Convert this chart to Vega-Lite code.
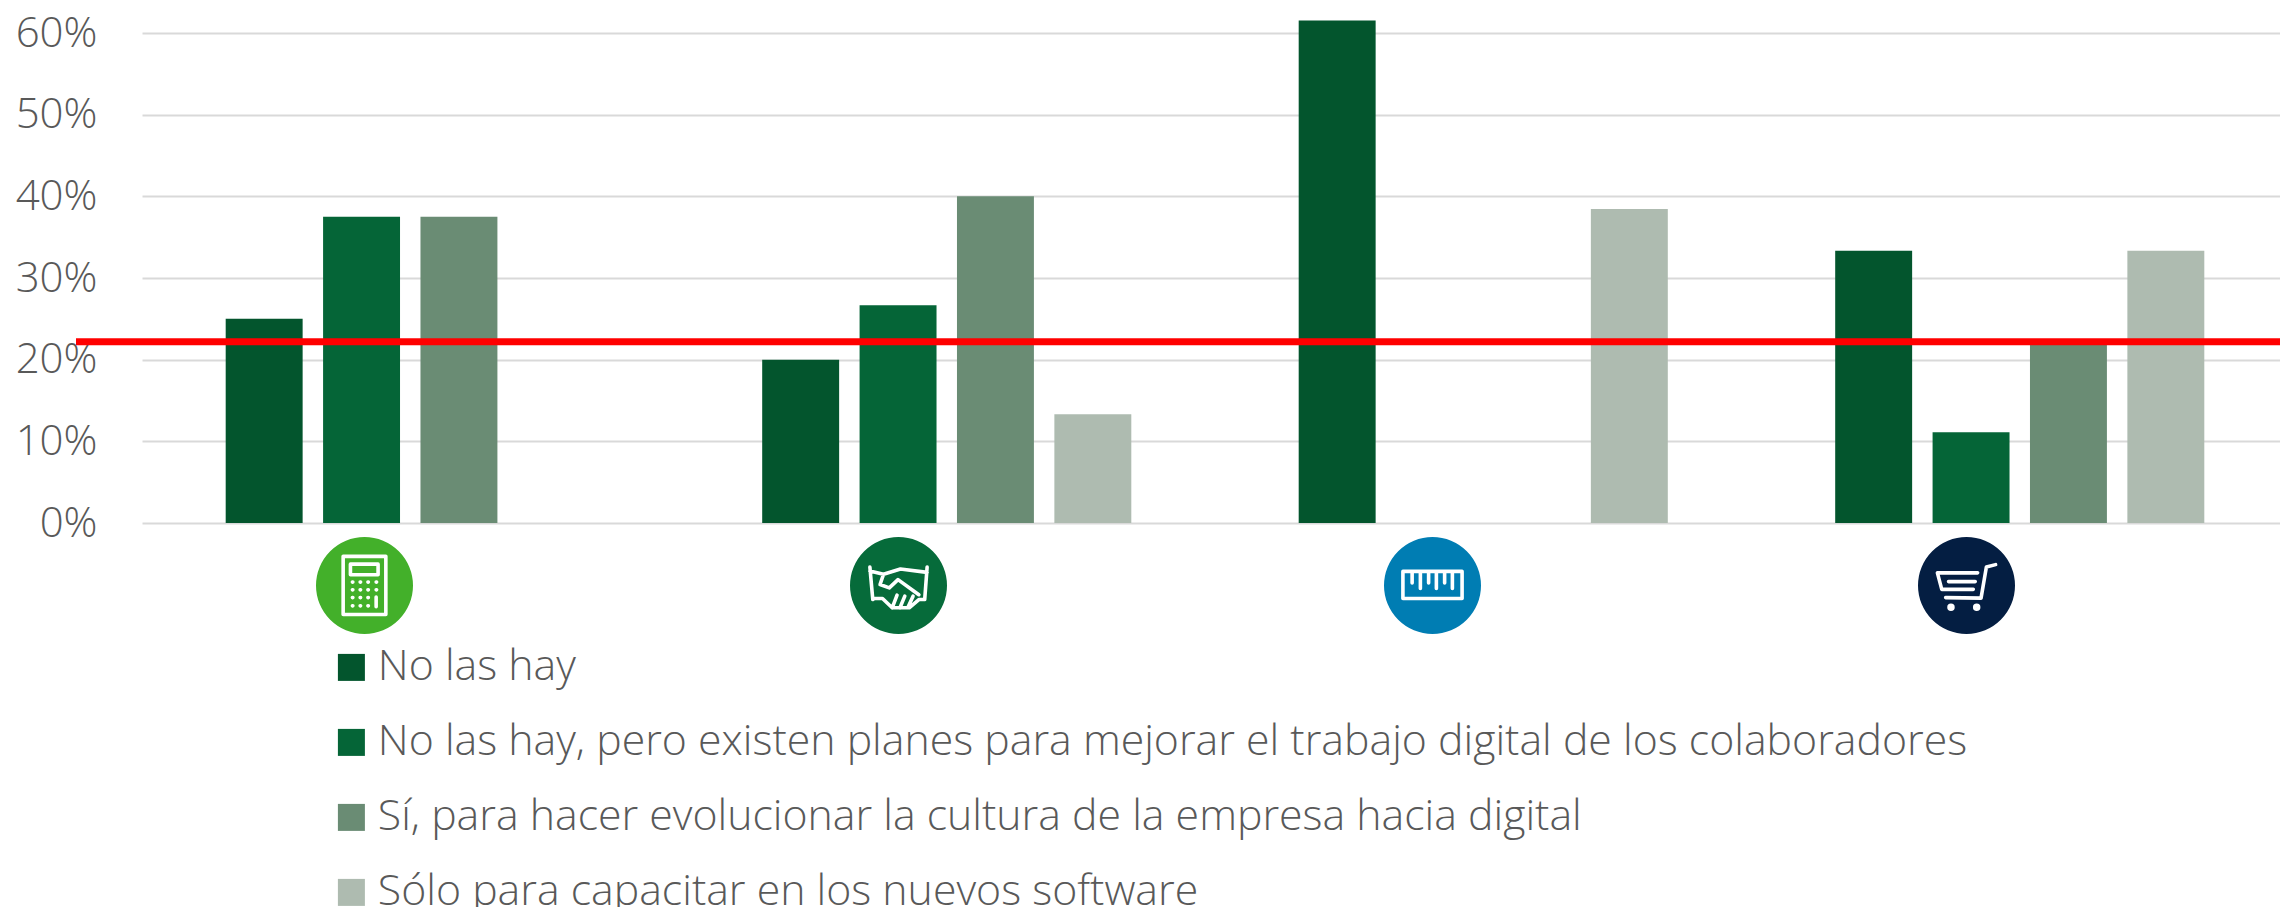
{
"$schema":"https://vega.github.io/schema/vega-lite/v6.json",
"width":2138,"height":490,
"autosize":{"type":"none"},
"padding":{"left":142,"top":33,"right":0,"bottom":384},
"background":"white",
"config":{"view":{"stroke":null},"font":"Open Sans"},
"datasets":{
"barras":[
{"area":"Contabilidad","respuesta":"No las hay","pct":25},
{"area":"Contabilidad","respuesta":"No las hay, pero existen planes para mejorar el trabajo digital de los colaboradores","pct":37.5},
{"area":"Contabilidad","respuesta":"Sí, para hacer evolucionar la cultura de la empresa hacia digital","pct":37.5},
{"area":"Contabilidad","respuesta":"Sólo para capacitar en los nuevos software","pct":0},
{"area":"Comercial","respuesta":"No las hay","pct":20},
{"area":"Comercial","respuesta":"No las hay, pero existen planes para mejorar el trabajo digital de los colaboradores","pct":26.67},
{"area":"Comercial","respuesta":"Sí, para hacer evolucionar la cultura de la empresa hacia digital","pct":40},
{"area":"Comercial","respuesta":"Sólo para capacitar en los nuevos software","pct":13.33},
{"area":"Ingeniería","respuesta":"No las hay","pct":61.54},
{"area":"Ingeniería","respuesta":"No las hay, pero existen planes para mejorar el trabajo digital de los colaboradores","pct":0},
{"area":"Ingeniería","respuesta":"Sí, para hacer evolucionar la cultura de la empresa hacia digital","pct":0},
{"area":"Ingeniería","respuesta":"Sólo para capacitar en los nuevos software","pct":38.46},
{"area":"Compras","respuesta":"No las hay","pct":33.33},
{"area":"Compras","respuesta":"No las hay, pero existen planes para mejorar el trabajo digital de los colaboradores","pct":11.11},
{"area":"Compras","respuesta":"Sí, para hacer evolucionar la cultura de la empresa hacia digital","pct":22.22},
{"area":"Compras","respuesta":"Sólo para capacitar en los nuevos software","pct":33.33}
],
"areas":[{"area":"Contabilidad"},{"area":"Comercial"},{"area":"Ingeniería"},{"area":"Compras"}],
"promedio":[{"pct":22.2,"desde":0,"hasta":1}]
},
"resolve":{"scale":{"x":"independent","color":"independent","shape":"independent"}},
"layer":[
{
"data":{"name":"barras"},
"mark":{"type":"bar","clip":false},
"encoding":{
"x":{"field":"area","type":"nominal","axis":null,"sort":["Contabilidad","Comercial","Ingeniería","Compras"],
"scale":{"domain":["Contabilidad","Comercial","Ingeniería","Compras"],"range":[0,2146],"paddingInner":0.312,"paddingOuter":0.156}},
"xOffset":{"field":"respuesta","type":"nominal","sort":null,
"scale":{"domain":["No las hay","No las hay, pero existen planes para mejorar el trabajo digital de los colaboradores","Sí, para hacer evolucionar la cultura de la empresa hacia digital","Sólo para capacitar en los nuevos software"],"paddingInner":0.21,"paddingOuter":0}},
"y":{"field":"pct","type":"quantitative","title":null,
"scale":{"domain":[0,60],"nice":false},
"axis":{"values":[0,10,20,30,40,50,60],"labelExpr":"datum.value + '%'","ticks":false,"domain":false,"grid":true,"gridColor":"#D9D9D9","gridWidth":2,"labelFontSize":42,"labelColor":"#595959","labelPadding":45,"labelFont":"Open Sans","labelFontWeight":300}},
"color":{"field":"respuesta","type":"nominal",
"scale":{"domain":["No las hay","No las hay, pero existen planes para mejorar el trabajo digital de los colaboradores","Sí, para hacer evolucionar la cultura de la empresa hacia digital","Sólo para capacitar en los nuevos software"],"range":["#03552D","#056537","#6A8C74","#AEBBB0"]},
"legend":{"orient":"none","legendX":188,"legendY":613,"title":null,"padding":0,"symbolType":"square","symbolSize":729,"symbolStrokeWidth":0,"symbolOpacity":1,"labelFontSize":42.8,"labelColor":"#595959","labelFont":"Open Sans","labelFontWeight":300,"labelLimit":2000,"labelOffset":5,"rowPadding":31,"columns":1}}
}
},
{
"data":{"name":"areas"},
"mark":{"type":"point","filled":true,"opacity":1,"size":9409,"shape":"circle","clip":false},
"encoding":{
"x":{"field":"area","type":"nominal","axis":null,"sort":["Contabilidad","Comercial","Ingeniería","Compras"],
"scale":{"domain":["Contabilidad","Comercial","Ingeniería","Compras"],"range":[-44.5,2091.5],"paddingInner":0,"paddingOuter":0}},
"y":{"datum":-7.65,"type":"quantitative"},
"color":{"field":"area","type":"nominal","legend":null,
"scale":{"domain":["Contabilidad","Comercial","Ingeniería","Compras"],"range":["#43B02A","#066B3A","#007DB3","#041E42"]}}
}
},
{
"data":{"name":"areas"},
"mark":{"type":"point","filled":false,"opacity":1,"size":9409,"stroke":"white","strokeWidth":3.6,"strokeCap":"round","strokeJoin":"round","clip":false},
"encoding":{
"x":{"field":"area","type":"nominal","axis":null,"sort":["Contabilidad","Comercial","Ingeniería","Compras"],
"scale":{"domain":["Contabilidad","Comercial","Ingeniería","Compras"],"range":[-44.5,2091.5],"paddingInner":0,"paddingOuter":0}},
"y":{"datum":-7.65,"type":"quantitative"},
"shape":{"field":"area","type":"nominal","legend":null,
"scale":{"domain":["Contabilidad","Comercial","Ingeniería","Compras"],"range":[
"M-.44 -.6H.44V.6H-.44ZM-.29 -.44H.28V-.22H-.29ZM-.25 -.07h.01M-.09 -.07h.01M.07 -.07h.01M.24 -.07h.01M-.25 .09h.01M-.09 .09h.01M.07 .09h.01M.24 .09h.01M-.25 .25h.01M-.09 .25h.01M.07 .25h.01M-.25 .42h.01M-.09 .42h.01M.07 .42h.01M.24 .24V.44",
"M-.59 -.38L-.53 .29M.59 -.38L.54 .29M-.59 -.3L-.31 -.23L.04 -.34L.59 -.27M-.53 .27H-.33L-.13 .46H.22L.42 .29H.54M-.31 -.23L-.38 -.02L-.19 .05L-.01 -.12L.42 .19M-.13 .46L-.03 .2M.03 .46L.13 .22M.2 .44L.3 .22",
"M-.61 -.29H.61V.27H-.61ZM-.42 -.29V-.05M-.25 -.29V.06M-.08 -.29V-.05M.08 -.29V.06M.25 -.29V-.05M.41 -.29V.06",
"M.6 -.43L.41 -.38L.3 .26L-.43 .25M.23 -.26H-.6L-.51 .08H.14M-.37 -.08H.18M-.36 .45a.04 .04 0 1 0 .08 0a.04 .04 0 1 0 -.08 0M.17 .45a.04 .04 0 1 0 .08 0a.04 .04 0 1 0 -.08 0"
]}}
}
},
{
"data":{"name":"promedio"},
"mark":{"type":"rule","color":"#FF0000","strokeWidth":7,"clip":false},
"encoding":{
"x":{"field":"desde","type":"quantitative","axis":null,"scale":{"domain":[0,1],"range":[-66,2138],"nice":false}},
"x2":{"field":"hasta"},
"y":{"field":"pct","type":"quantitative"}
}
}
]
}
